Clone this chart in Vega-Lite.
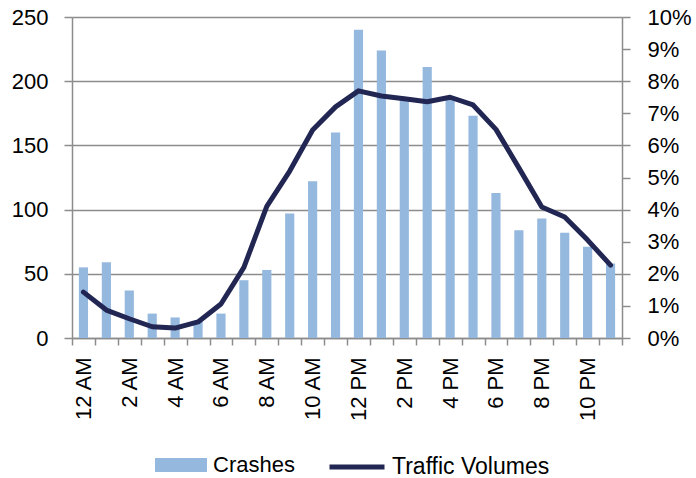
{
  "$schema": "https://vega.github.io/schema/vega-lite/v6.json",
  "width": 550,
  "height": 321,
  "autosize": {"type": "none"},
  "padding": {"left": 72, "top": 17, "right": 74, "bottom": 140},
  "background": "white",
  "config": {
    "view": {"stroke": null},
    "font": "Liberation Sans",
    "axis": {"labelFont": "Liberation Sans", "labelFontSize": 22, "labelColor": "#000000", "domainColor": "#8C8C8C", "tickColor": "#8C8C8C", "domainWidth": 1.5, "tickWidth": 1.5, "gridColor": "#8C8C8C", "gridWidth": 1.5},
    "legend": {"labelFont": "Liberation Sans", "labelFontSize": 22, "labelColor": "#000000", "labelLimit": 400}
  },
  "data": {
    "values": [
      {"hour": 0, "crashes": 55, "volume": 0.0143},
      {"hour": 1, "crashes": 59, "volume": 0.0087},
      {"hour": 2, "crashes": 37, "volume": 0.006},
      {"hour": 3, "crashes": 19, "volume": 0.0035},
      {"hour": 4, "crashes": 16, "volume": 0.0031},
      {"hour": 5, "crashes": 13, "volume": 0.005},
      {"hour": 6, "crashes": 19, "volume": 0.0106},
      {"hour": 7, "crashes": 45, "volume": 0.022},
      {"hour": 8, "crashes": 53, "volume": 0.041},
      {"hour": 9, "crashes": 97, "volume": 0.052},
      {"hour": 10, "crashes": 122, "volume": 0.0648},
      {"hour": 11, "crashes": 160, "volume": 0.072},
      {"hour": 12, "crashes": 240, "volume": 0.077},
      {"hour": 13, "crashes": 224, "volume": 0.0754},
      {"hour": 14, "crashes": 186, "volume": 0.0745},
      {"hour": 15, "crashes": 211, "volume": 0.0736},
      {"hour": 16, "crashes": 187, "volume": 0.075},
      {"hour": 17, "crashes": 173, "volume": 0.0726},
      {"hour": 18, "crashes": 113, "volume": 0.065},
      {"hour": 19, "crashes": 84, "volume": 0.053},
      {"hour": 20, "crashes": 93, "volume": 0.0408},
      {"hour": 21, "crashes": 82, "volume": 0.0377},
      {"hour": 22, "crashes": 71, "volume": 0.0305},
      {"hour": 23, "crashes": 58, "volume": 0.0227}
    ]
  },
  "encoding": {
    "x": {
      "field": "hour",
      "type": "ordinal",
      "scale": {"paddingInner": 0, "paddingOuter": 0},
      "axis": {
        "title": null,
        "labelAngle": -90,
        "tickBand": "extent",
        "tickSize": 7,
        "labelPadding": 12,
        "labelExpr": "datum.value % 2 == 0 ? (datum.value == 0 ? '12 AM' : datum.value < 12 ? datum.value + ' AM' : datum.value == 12 ? '12 PM' : (datum.value - 12) + ' PM') : ''"
      }
    }
  },
  "layer": [
    {
      "mark": {"type": "bar", "width": {"band": 0.4}},
      "encoding": {
        "y": {
          "field": "crashes",
          "type": "quantitative",
          "scale": {"domain": [0, 250], "nice": false},
          "axis": {"title": null, "values": [0, 50, 100, 150, 200, 250], "tickSize": 8, "labelPadding": 16, "grid": true}
        },
        "fill": {
          "datum": "Crashes",
          "scale": {"domain": ["Crashes"], "range": ["#95B8DF"]},
          "legend": {"title": null, "orient": "none", "legendX": 83, "legendY": 422, "symbolType": "M-1,-0.27H1V0.27H-1Z", "symbolSize": 2704, "symbolStrokeWidth": 0, "labelOffset": 6}
        }
      }
    },
    {
      "mark": {"type": "line", "strokeWidth": 5, "strokeCap": "round", "strokeJoin": "round"},
      "encoding": {
        "y": {
          "field": "volume",
          "type": "quantitative",
          "scale": {"domain": [0, 0.1], "nice": false},
          "axis": {"title": null, "orient": "right", "format": ".0%", "values": [0, 0.01, 0.02, 0.03, 0.04, 0.05, 0.06, 0.07, 0.08, 0.09, 0.1], "tickSize": 8, "labelPadding": 17, "grid": false}
        },
        "stroke": {
          "datum": "Traffic Volumes",
          "scale": {"domain": ["Traffic Volumes"], "range": ["#222653"]},
          "legend": {"title": null, "orient": "none", "legendX": 255, "legendY": 420, "symbolType": "stroke", "symbolSize": 3025, "symbolStrokeWidth": 5, "labelOffset": 5, "labelFontSize": 23}
        }
      }
    }
  ],
  "resolve": {"scale": {"y": "independent", "fill": "independent", "stroke": "independent"}}
}
